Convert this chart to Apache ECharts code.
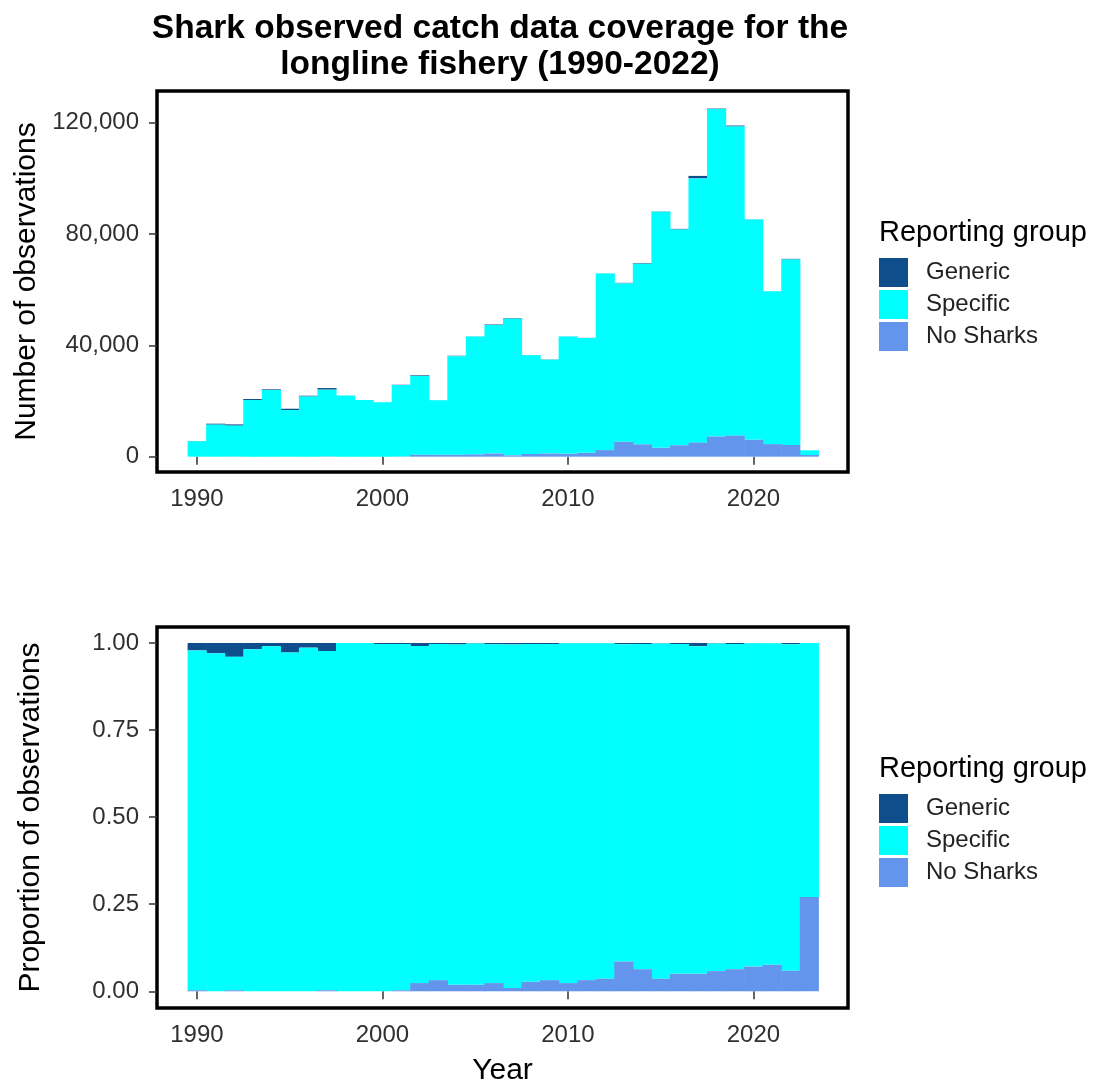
<!DOCTYPE html>
<html>
<head>
<meta charset="utf-8">
<script src="https://cdn.jsdelivr.net/npm/echarts@6/dist/echarts.min.js"></script>
<style>
html,body{margin:0;padding:0;background:#fff}
#main{width:1098px;height:1087px}
</style>
</head>
<body>
<div id="main"></div>
<script>
var years = [1990,1991,1992,1993,1994,1995,1996,1997,1998,1999,
             2000,2001,2002,2003,2004,2005,2006,2007,2008,2009,
             2010,2011,2012,2013,2014,2015,2016,2017,2018,2019,
             2020,2021,2022,2023];
var generic = [120,350,460,370,230,470,290,570,0,0,
               60,80,260,60,150,60,180,200,110,100,
               40,40,60,200,220,100,250,900,150,360,
               80,40,240,0];
var specific = [5490,11500,11100,20330,23940,16750,21600,24000,22000,20340,
                19560,25670,28250,19630,35420,42330,46190,49090,35390,33720,
                42140,41280,63360,56880,64860,84760,77460,94870,117590,110980,
                79140,54880,66600,1670];
var noSharks = [17,0,35,0,0,0,0,74,0,0,
                0,77,690,650,670,800,1120,470,990,1120,
                1020,1370,2370,5340,4410,3170,4090,5040,7250,7550,
                6050,4520,4190,620];
var groups = ['Generic','Specific','No Sharks'];
var groupColors = {'Generic':'#104E8B','Specific':'#00FFFF','No Sharks':'#6495ED'};
var countTicks = [0,40000,80000,120000];
var propTicks = [0,0.25,0.5,0.75,1];
var yearTicks = [1990,2000,2010,2020];

var FONT = "'Liberation Sans', Arial, sans-serif";
var chart = echarts.init(document.getElementById('main'));

// build stacked [year, low, high] rows, bottom to top: No Sharks, Specific, Generic
function stackRows(asProp){
    var rows = {'Generic':[],'Specific':[],'No Sharks':[]};
    for (var i = 0; i < years.length; i++) {
        var tot = generic[i] + specific[i] + noSharks[i];
        var k = asProp ? 1 / tot : 1;
        var a = noSharks[i] * k, b = a + specific[i] * k, c = b + generic[i] * k;
        rows['No Sharks'].push([years[i], 0, a]);
        rows['Specific'].push([years[i], a, b]);
        rows['Generic'].push([years[i], b, c]);
    }
    return rows;
}

function renderBar(params, api){
    var yr = api.value(0), lo = api.value(1), hi = api.value(2);
    if (hi - lo <= 0) return null;
    var p0 = api.coord([yr - 0.5, hi]);
    var p1 = api.coord([yr + 0.5, lo]);
    return {
        type: 'rect',
        shape: {x: p0[0], y: p0[1], width: p1[0] - p0[0] + 0.6, height: p1[1] - p0[1]},
        style: {fill: api.visual('color')}
    };
}

var countRows = stackRows(false);
var propRows = stackRows(true);

var series = [];
groups.forEach(function(g){
    series.push({name: g, type: 'custom', xAxisIndex: 0, yAxisIndex: 0,
        itemStyle: {color: groupColors[g]}, renderItem: renderBar,
        encode: {x: 0, y: [1, 2]}, data: countRows[g]});
    series.push({name: g, type: 'custom', xAxisIndex: 1, yAxisIndex: 1,
        itemStyle: {color: groupColors[g]}, renderItem: renderBar,
        encode: {x: 0, y: [1, 2]}, data: propRows[g]});
});

function xAxisOf(idx, name){
    return {
        type: 'value', gridIndex: idx, min: 1987.85, max: 2025.1,
        name: name, nameLocation: 'middle', nameGap: 48,
        nameTextStyle: {fontSize: 30, color: '#000', fontFamily: FONT},
        axisLine: {show: false},
        splitLine: {show: false},
        axisTick: {show: true, length: 8, customValues: yearTicks, lineStyle: {color: '#333', width: 1.5}},
        axisLabel: {customValues: yearTicks, margin: 15, fontSize: 24, color: '#303030', fontFamily: FONT,
            formatter: function(v){ return String(v); }}
    };
}

function yAxisOf(idx, name, mn, mx, ticks, fmt){
    return {
        type: 'value', gridIndex: idx, min: mn, max: mx,
        name: name, nameLocation: 'middle', nameRotate: 90, nameGap: 111,
        nameTextStyle: {fontSize: 30, color: '#000', fontFamily: FONT},
        axisLine: {show: false},
        splitLine: {show: false},
        axisTick: {show: true, length: 8, customValues: ticks, lineStyle: {color: '#333', width: 1.5}},
        axisLabel: {customValues: ticks, margin: 18, fontSize: 24, color: '#303030', fontFamily: FONT, formatter: fmt}
    };
}

function legendOf(top){
    return {
        data: groups, orient: 'vertical', left: 879, top: top, padding: 0,
        icon: 'rect', itemWidth: 29, itemHeight: 29, itemGap: 3, selectedMode: false,
        textStyle: {fontSize: 24, color: '#222', fontFamily: FONT, lineHeight: 29, padding: [0, 0, 0, 13]}
    };
}

chart.setOption({
    animation: false,
    backgroundColor: '#fff',
    title: [
        {text: 'Shark observed catch data coverage for the\nlongline fishery (1990-2022)',
         left: 500, top: 11, textAlign: 'center', padding: 0,
         textStyle: {fontSize: 33.5, fontWeight: 'bold', lineHeight: 36, color: '#000', fontFamily: FONT}},
        {text: 'Reporting group', left: 879, top: 218, padding: 0,
         textStyle: {fontSize: 29, fontWeight: 'normal', lineHeight: 30, color: '#000', fontFamily: FONT}},
        {text: 'Reporting group', left: 879, top: 754, padding: 0,
         textStyle: {fontSize: 29, fontWeight: 'normal', lineHeight: 30, color: '#000', fontFamily: FONT}}
    ],
    legend: [legendOf(258), legendOf(794)],
    grid: [
        {left: 157, top: 91, width: 691, height: 381, show: true, borderColor: '#000', borderWidth: 3.5, backgroundColor: '#fff'},
        {left: 157, top: 627, width: 691, height: 381, show: true, borderColor: '#000', borderWidth: 3.5, backgroundColor: '#fff'}
    ],
    xAxis: [xAxisOf(0, ''), xAxisOf(1, 'Year')],
    yAxis: [
        yAxisOf(0, 'Number of observations', -5500, 131300, countTicks,
            function(v){ return v.toLocaleString('en-US'); }),
        yAxisOf(1, 'Proportion of observations', -0.048, 1.046, propTicks,
            function(v){ return v.toFixed(2); })
    ],
    series: series
});
</script>
</body>
</html>
